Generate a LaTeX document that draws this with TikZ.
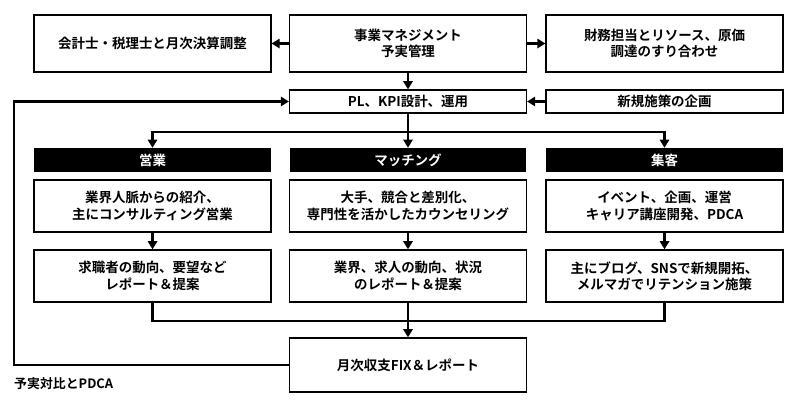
\documentclass[tikz,border=0pt]{standalone}
\usepackage{fontspec}
\setmainfont{Noto Sans CJK JP}[BoldFont={* Bold}]
\usetikzlibrary{positioning,arrows.meta}
\tikzset{
  box/.style={draw, line width=1.2pt, minimum width=7.1cm, align=center, font=\bfseries\fontsize{11.5}{14}\selectfont, inner sep=1pt},
  head/.style={fill=black, text=white, minimum width=7.1cm, minimum height=0.72cm, font=\bfseries\fontsize{11.5}{14}\selectfont, inner sep=0pt},
  arr/.style={-{Triangle[length=7pt,width=8pt]}, line width=2.2pt},
  ln/.style={line width=2.2pt}
}
\begin{document}
\begin{tikzpicture}[x=0.03cm, y=-0.03cm]
  \useasboundingbox (0,0) rectangle (800,408);

  % Top row
  \node at (152.5,43.5) (acc) [box, minimum height=1.71cm] {会計士・税理士と月次決算調整};
  \node at (408,43.5) (mgmt) [box, minimum height=1.71cm] {事業マネジメント\\予実管理};
  \node at (664.5,43.5) (fin) [box, minimum height=1.71cm] {財務担当とリソース、原価\\調達のすり合わせ};
  \node at (408,101.5) (pl) [box, minimum height=0.69cm] {PL、KPI設計、運用};
  \node at (664.5,101.5) (plan) [box, minimum height=0.69cm] {新規施策の企画};

  % Headers
  \node at (152.5,160) (h1) [head] {営業};
  \node at (408,160) (h2) [head] {マッチング};
  \node at (664.5,160) (h3) [head] {集客};

  % Middle rows
  \node at (152.5,206) (a1) [box, minimum height=1.56cm] {業界人脈からの紹介、\\主にコンサルティング営業};
  \node at (408,206) (a2) [box, minimum height=1.56cm] {大手、競合と差別化、\\専門性を活かしたカウンセリング};
  \node at (664.5,206) (a3) [box, minimum height=1.56cm] {イベント、企画、運営\\キャリア講座開発、PDCA};
  \node at (152.5,276) (b1) [box, minimum height=1.56cm] {求職者の動向、要望など\\レポート＆提案};
  \node at (408,276) (b2) [box, minimum height=1.56cm] {業界、求人の動向、状況\\のレポート＆提案};
  \node at (664.5,276) (b3) [box, minimum height=1.56cm] {主にブログ、SNSで新規開拓、\\メルマガでリテンション施策};

  \node at (408,365) (rep) [box, minimum height=1.62cm] {月次収支FIX＆レポート};
  \node at (14,384) (pdca) [anchor=west, font=\bfseries\fontsize{11}{13}\selectfont, inner sep=0pt] {予実対比とPDCA};

  % Arrows
  \draw[arr] (mgmt) -- (acc);
  \draw[arr] (mgmt) -- (fin);
  \draw[arr] (mgmt) -- (pl);
  \draw[arr] (plan) -- (pl);
  \coordinate (split) at (408,132);
  \draw[ln] (pl) -- (split);
  \draw[arr] (h2.north |- split) -- (h2);
  \draw[arr] (split) -| (h1);
  \draw[arr] (split) -| (h3);
  \draw[arr] (a1) -- (b1);
  \draw[arr] (a2) -- (b2);
  \draw[arr] (a3) -- (b3);
  \coordinate (join) at (408,321);
  \draw[ln] (b1) |- (join) -| (b3);
  \draw[arr] (b2) -- (rep);
  \coordinate (loop) at (14,365);
  \draw[arr] (rep) -- (loop) |- (pl);
\end{tikzpicture}
\end{document}
